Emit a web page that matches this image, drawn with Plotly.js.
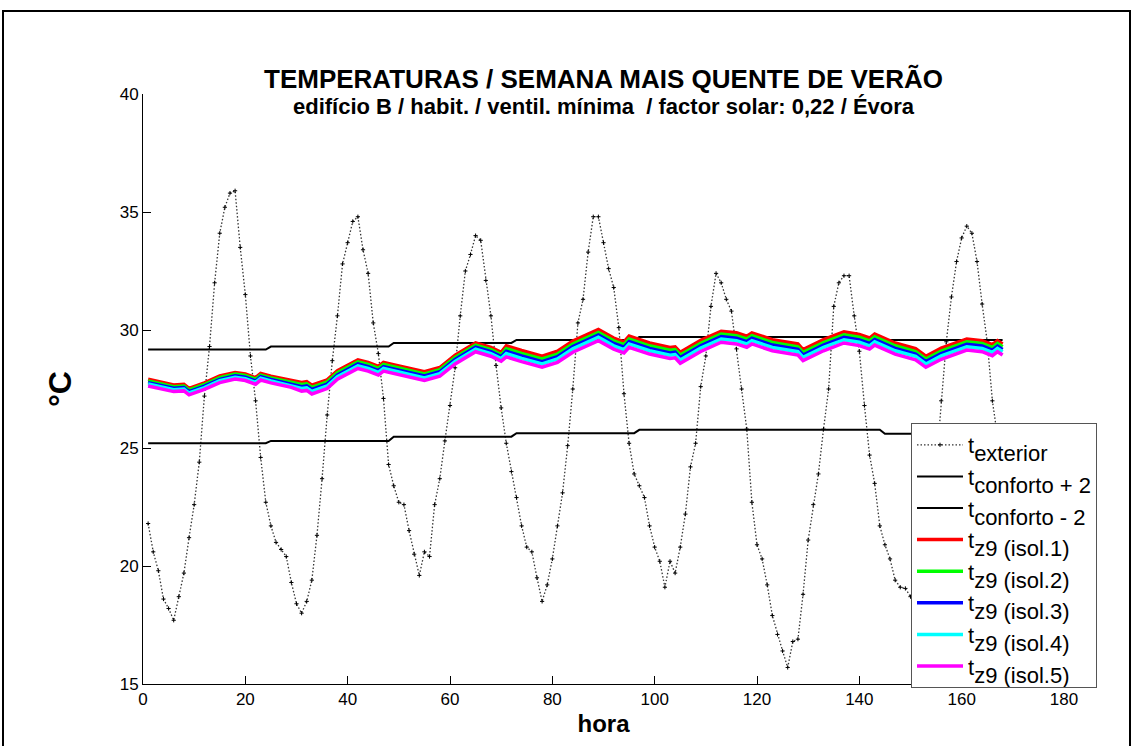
<!DOCTYPE html>
<html>
<head>
<meta charset="utf-8">
<script src="https://cdn.plot.ly/plotly-3.0.1.min.js"></script>
<style>
html,body{margin:0;padding:0;background:#ffffff;}
#chart{width:1133px;height:746px;}
</style>
</head>
<body>
<div id="chart"></div>
<script>
// ---------- DATA ----------
// hour index of the week (1..168)
const hours = Array.from({length:168}, (_, i) => i + 1);

// exterior temperature, hourly (°C)
const tExterior = [
 21.8,20.6,19.8,18.6,18.2,17.7,18.7,19.7,21.2,22.6,24.4,27.2,29.3,32.0,34.1,35.2,35.8,35.9,33.5,31.5,28.9,27.0,24.6,22.7,
 21.7,21.0,20.7,20.4,19.3,18.4,18.0,18.5,19.4,21.3,23.7,26.4,28.7,30.6,32.8,33.7,34.6,34.8,33.4,32.4,30.3,29.0,27.1,24.3,
 23.4,22.7,22.6,21.5,20.5,19.6,20.6,20.4,22.6,23.7,25.3,26.8,28.4,30.6,32.5,33.2,34.0,33.8,32.1,30.6,28.5,26.7,25.2,24.0,
 22.9,21.7,20.8,20.6,19.5,18.5,19.2,20.3,21.7,23.1,25.1,27.5,30.3,31.3,33.3,34.8,34.8,33.7,32.6,31.8,30.1,27.3,25.2,23.9,
 23.4,22.9,21.7,20.8,20.2,19.1,20.2,19.7,20.8,22.2,24.2,25.2,27.6,28.9,31.0,32.4,32.0,31.3,30.8,29.2,27.5,25.8,22.7,20.9,
 20.3,19.2,17.9,17.1,16.4,15.7,16.8,16.9,18.8,21.1,22.6,23.9,25.8,27.5,31.0,32.0,32.3,32.3,30.6,29.1,26.8,24.7,23.5,21.7,
 20.9,20.3,19.4,19.1,19.05,18.7,18.5,18.8,19.8,21.8,24.2,27.0,29.5,31.4,32.9,33.9,34.4,34.1,32.9,31.1,29.5,27.0,25.5,24.6
];

// comfort band limits (daily values, drawn as steps)
const comfortHours = [1,24,25,48,49,72,73,96,97,120,121,144,145,168];
const tConfortoMais2  = [29.17,29.17,29.30,29.30,29.45,29.45,29.58,29.58,29.70,29.70,29.70,29.70,29.58,29.58];
const tConfortoMenos2 = [25.20,25.20,25.30,25.30,25.48,25.48,25.63,25.63,25.77,25.77,25.77,25.77,25.60,25.60];

// zone 9 interior temperatures, read at characteristic hours
const zoneHours = [1,3,6,8,9,12,15,18,20,22,23,25,29,31,32,33,36,38,42,44,46,47,50,55,58,61,65,68,70,71,
 74,78,81,84,89,92,94,95,99,103,104,105,109,113,116,118,119,123,128,129,133,137,140,142,143,147,151,153,156,161,164,166,167,168];

const tz9Isol1 = [27.91,27.81,27.67,27.70,27.53,27.76,28.05,28.20,28.14,27.98,28.16,28.04,27.85,
 27.78,27.81,27.66,27.89,28.28,28.74,28.63,28.46,28.63,28.48,28.23,28.41,28.93,29.45,29.26,29.05,
 29.33,29.13,28.89,29.10,29.53,30.02,29.66,29.50,29.74,29.45,29.26,29.29,29.06,29.56,29.95,29.88,29.74,29.88,29.59,29.41,29.17,29.59,29.92,29.81,29.66,29.83,29.45,29.21,28.89,29.23,29.62,29.55,29.38,29.55,29.41];
const tz9Isol2 = [27.84,27.74,27.60,27.63,27.46,27.69,27.98,28.13,28.07,27.91,28.09,27.97,27.78,
 27.69,27.72,27.57,27.80,28.19,28.65,28.54,28.37,28.54,28.39,28.14,28.32,28.84,29.36,29.17,28.96,
 29.21,29.01,28.77,28.98,29.41,29.90,29.54,29.38,29.62,29.33,29.14,29.17,28.94,29.44,29.83,29.76,29.62,29.76,29.47,29.29,29.05,29.47,29.80,29.69,29.54,29.71,29.33,29.09,28.77,29.11,29.50,29.43,29.26,29.43,29.29];
const tz9Isol3 = [27.77,27.67,27.53,27.56,27.39,27.62,27.91,28.06,28.00,27.84,28.02,27.90,27.71,
 27.60,27.63,27.48,27.71,28.10,28.56,28.45,28.28,28.45,28.30,28.05,28.23,28.75,29.27,29.08,28.87,
 29.10,28.90,28.66,28.87,29.30,29.79,29.43,29.27,29.51,29.22,29.03,29.06,28.83,29.33,29.72,29.65,29.51,29.65,29.36,29.18,28.94,29.36,29.69,29.58,29.43,29.60,29.22,28.98,28.66,29.00,29.39,29.32,29.15,29.32,29.18];
const tz9Isol4 = [27.71,27.61,27.47,27.50,27.33,27.56,27.85,28.00,27.94,27.78,27.96,27.84,27.65,
 27.52,27.55,27.40,27.63,28.02,28.48,28.37,28.20,28.37,28.22,27.97,28.15,28.67,29.19,29.00,28.79,
 29.00,28.80,28.56,28.77,29.20,29.69,29.33,29.17,29.41,29.12,28.93,28.96,28.73,29.23,29.62,29.55,29.41,29.55,29.26,29.08,28.84,29.26,29.59,29.48,29.33,29.50,29.12,28.88,28.56,28.90,29.29,29.22,29.05,29.22,29.08];
const tz9Isol5 = [27.63,27.53,27.39,27.42,27.25,27.48,27.77,27.92,27.86,27.70,27.88,27.76,27.57,
 27.41,27.44,27.29,27.52,27.91,28.37,28.26,28.09,28.26,28.11,27.86,28.04,28.56,29.08,28.89,28.68,
 28.86,28.66,28.42,28.63,29.06,29.55,29.19,29.03,29.27,28.98,28.79,28.82,28.59,29.09,29.48,29.41,29.27,29.41,29.12,28.94,28.70,29.12,29.45,29.34,29.19,29.36,28.98,28.74,28.42,28.76,29.15,29.08,28.91,29.08,28.94];

const xTicks = [0,20,40,60,80,100,120,140,160,180];
const yTicks = [15,20,25,30,35,40];

const legendSubs = ['exterior','conforto + 2','conforto - 2','z9 (isol.1)','z9 (isol.2)','z9 (isol.3)','z9 (isol.4)','z9 (isol.5)'];
const legendNames = legendSubs.map(s => 't<span style="font-size:22px;baseline-shift:-8px">' + s + '</span>');
const zoneColors = ['#ff0000','#00ff00','#0000ff','#00ffff','#ff00ff'];

const titleText = 'TEMPERATURAS / SEMANA MAIS QUENTE DE VERÃO';
const subtitleText = 'edifício B / habit. / ventil. mínima  / factor solar: 0,22 / Évora';

// ---------- TRACES ----------
const FONT = 'Liberation Sans, Arial, Helvetica, sans-serif';
const traces = [];
traces.push({
  x: hours, y: tExterior, type: 'scatter', mode: 'lines+markers', name: legendNames[0],
  line: {color: '#333333', width: 1.3, dash: '1.5px,2px'},
  marker: {symbol: 'cross-thin', size: 3, color: '#000', line: {color: '#000', width: 1}},
  legendgroup: 'g0'
});
traces.push({
  x: comfortHours, y: tConfortoMais2, type: 'scatter', mode: 'lines', name: legendNames[1],
  line: {color: '#000000', width: 2}, legendgroup: 'g1'
});
traces.push({
  x: comfortHours, y: tConfortoMenos2, type: 'scatter', mode: 'lines', name: legendNames[2],
  line: {color: '#000000', width: 2}, legendgroup: 'g2'
});
const zoneSeries = [tz9Isol1, tz9Isol2, tz9Isol3, tz9Isol4, tz9Isol5];
zoneSeries.forEach((s, i) => {
  traces.push({
    x: zoneHours, y: s, type: 'scatter', mode: 'lines', name: legendNames[3 + i],
    line: {color: zoneColors[i], width: 3.5}, legendgroup: 'g' + (3 + i)
  });
});

// ---------- LAYOUT ----------
const axisCommon = {
  showline: true, linecolor: '#000', linewidth: 1, mirror: false,
  ticks: 'inside', ticklen: 8, tickwidth: 1, tickcolor: '#000',
  showgrid: false, zeroline: false,
  tickfont: {family: FONT, size: 17, color: '#000'}
};
const layout = {
  width: 1133, height: 746,
  paper_bgcolor: '#ffffff', plot_bgcolor: '#ffffff',
  margin: {l: 143, r: 69, t: 94, b: 62},
  showlegend: true,
  title: {
    text: titleText,
    font: {family: FONT, size: 26, color: '#000', weight: 'bold'},
    x: 0.5, xanchor: 'center', xref: 'paper',
    y: 1 - 79/746, yanchor: 'middle', yref: 'container'
  },
  annotations: [{
    text: subtitleText, xref: 'paper', yref: 'paper',
    x: 0.5, xanchor: 'center', y: (684 - 106) / 590, yanchor: 'middle',
    showarrow: false,
    font: {family: FONT, size: 22, color: '#000', weight: 'bold'}
  }],
  xaxis: Object.assign({}, axisCommon, {
    range: [0, 180], tickvals: xTicks, ticktext: xTicks.map(String),
    title: {text: 'hora', font: {family: FONT, size: 24, color: '#000', weight: 'bold'}, standoff: 6}
  }),
  yaxis: Object.assign({}, axisCommon, {
    range: [15, 40], tickvals: yTicks, ticktext: yTicks.map(String),
    title: {text: '°C', font: {family: FONT, size: 32, color: '#000', weight: 'bold'}, standoff: 38}
  }),
  legend: {
    x: (911 - 143) / 921, y: (684 - 423) / 590, xanchor: 'left', yanchor: 'top',
    bgcolor: '#ffffff', bordercolor: '#555555', borderwidth: 1,
    font: {family: FONT, size: 22, color: '#000'},
    itemwidth: 46,
    traceorder: 'grouped', tracegroupgap: 0
  },
  shapes: [{
    type: 'rect', xref: 'paper', yref: 'paper',
    x0: (3 - 143) / 921, x1: (1130 - 143) / 921,
    y0: (684 - 748) / 590, y1: (684 - 11) / 590,
    line: {color: '#000', width: 2}, fillcolor: 'rgba(0,0,0,0)', layer: 'below'
  }]
};

Plotly.newPlot('chart', traces, layout, {staticPlot: true, displayModeBar: false});
</script>
</body>
</html>
